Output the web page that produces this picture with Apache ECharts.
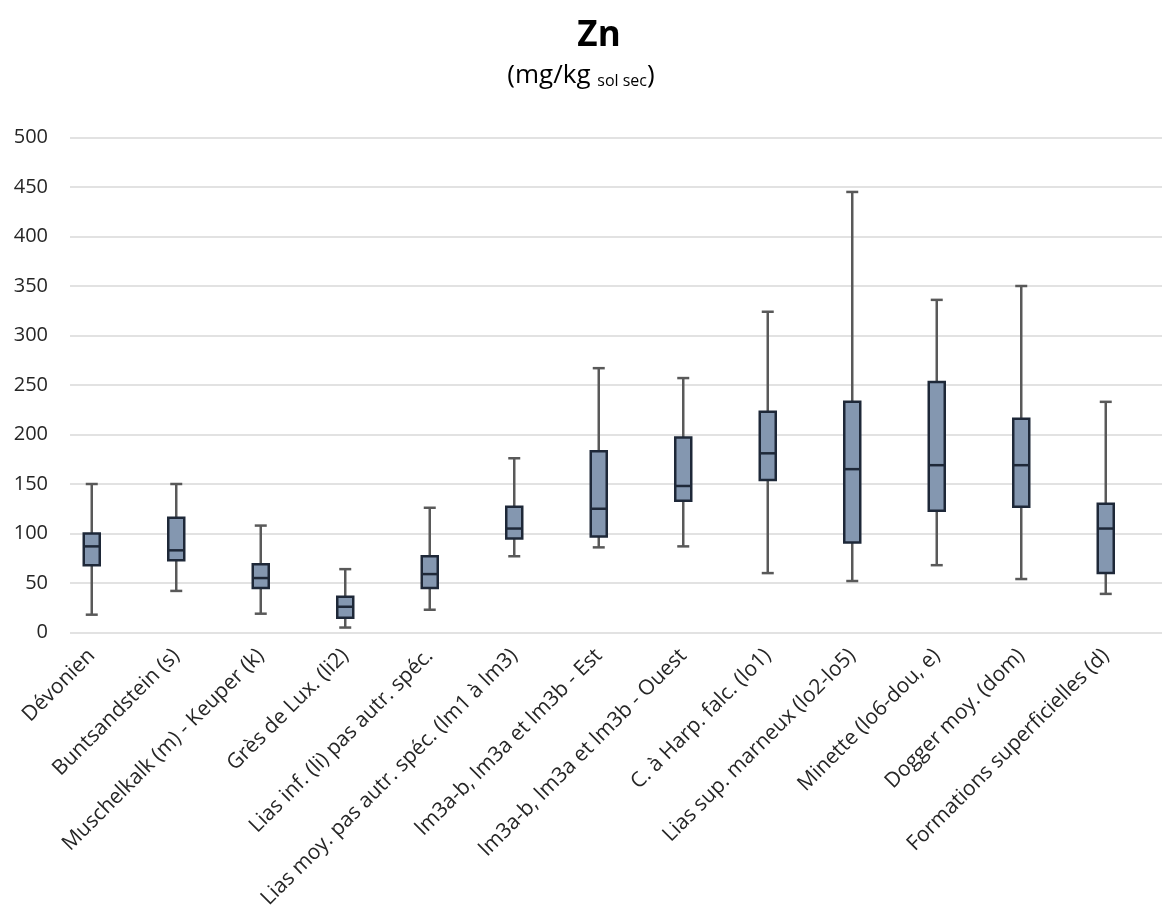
<!DOCTYPE html>
<html>
<head>
<meta charset="utf-8">
<script src="https://cdn.jsdelivr.net/npm/echarts@6/dist/echarts.min.js"></script>
<style>
html,body{margin:0;padding:0;background:#fff;}
#chart{width:1162px;height:913px;}
</style>
</head>
<body>
<div id="chart"></div>
<script>
const categories = [
  "Dévonien",
  "Buntsandstein (s)",
  "Muschelkalk (m) - Keuper (k)",
  "Grès de Lux. (li2)",
  "Lias inf. (li) pas autr. spéc.",
  "Lias moy. pas autr. spéc. (lm1 à lm3)",
  "lm3a-b, lm3a et lm3b - Est",
  "lm3a-b, lm3a et lm3b - Ouest",
  "C. à Harp. falc. (lo1)",
  "Lias sup. marneux (lo2-lo5)",
  "Minette (lo6-dou, e)",
  "Dogger moy. (dom)",
  "Formations superficielles (d)"
];
const minValues    = [18, 42, 19,  5, 23,  77,  86,  87,  60,  52,  68,  54,  39];
const q1Values     = [68, 73, 45, 15, 45,  95,  97, 133, 154,  91, 123, 127,  60];
const medianValues = [87, 83, 55, 26, 59, 105, 125, 148, 181, 165, 169, 169, 105];
const q3Values     = [100,116, 69, 36, 77, 127, 183, 197, 223, 233, 253, 216, 130];
const maxValues    = [150,150,108, 64,126, 176, 267, 257, 324, 445, 336, 350, 233];
const yTicks = [0, 50, 100, 150, 200, 250, 300, 350, 400, 450, 500];

const boxData = categories.map((c, i) => [i, minValues[i], q1Values[i], medianValues[i], q3Values[i], maxValues[i]]);

const FONT = "'Open Sans', 'DejaVu Sans', sans-serif";
const chart = echarts.init(document.getElementById('chart'));

function renderBox(params, api) {
  const x = api.value(0);
  const pMin = api.coord([x, api.value(1)]);
  const pQ1 = api.coord([x, api.value(2)]);
  const pMed = api.coord([x, api.value(3)]);
  const pQ3 = api.coord([x, api.value(4)]);
  const pMax = api.coord([x, api.value(5)]);
  const cx = pMin[0];
  const halfBox = 8, halfCap = 6;
  const wStyle = {stroke: '#595959', lineWidth: 2.5};
  const bStyle = {stroke: '#1E2838', lineWidth: 2.5};
  return {
    type: 'group',
    children: [
      {type: 'line', shape: {x1: cx, y1: pMin[1], x2: cx, y2: pQ1[1]}, style: wStyle},
      {type: 'line', shape: {x1: cx, y1: pQ3[1], x2: cx, y2: pMax[1]}, style: wStyle},
      {type: 'line', shape: {x1: cx - halfCap, y1: pMin[1], x2: cx + halfCap, y2: pMin[1]}, style: wStyle},
      {type: 'line', shape: {x1: cx - halfCap, y1: pMax[1], x2: cx + halfCap, y2: pMax[1]}, style: wStyle},
      {type: 'rect', shape: {x: cx - halfBox, y: pQ3[1], width: 2 * halfBox, height: pQ1[1] - pQ3[1]},
        style: {fill: '#8497B0', stroke: '#1E2838', lineWidth: 2.5}},
      {type: 'line', shape: {x1: cx - halfBox, y1: pMed[1], x2: cx + halfBox, y2: pMed[1]}, style: bStyle}
    ]
  };
}

const option = {
  backgroundColor: '#ffffff',
  animation: false,
  title: [{
    text: 'Zn',
    left: 594, top: 14, textAlign: 'center',
    textStyle: {fontFamily: FONT, fontSize: 35, fontWeight: 'bold', color: '#000'}
  }],
  graphic: [{
    type: 'text',
    left: 'center',
    top: 63,
    style: {
      text: '{a|(mg/kg }{b|sol sec}{a|)}',
      rich: {
        a: {fontFamily: FONT, fontSize: 26, lineHeight: 34, color: '#000', verticalAlign: 'bottom'},
        b: {fontFamily: FONT, fontSize: 16, lineHeight: 16, color: '#000', verticalAlign: 'bottom'}
      }
    },
    x: 14
  }],
  grid: [
    {left: 70, right: 0, top: 137.5, height: 495},
    {left: 49.5, width: 1098.5, top: 137.5, height: 495}
  ],
  xAxis: [
    {type: 'value', gridIndex: 0, show: false, min: 0, max: 1},
    {
      type: 'category', gridIndex: 1, data: categories,
      axisLine: {show: false}, axisTick: {show: false},
      axisLabel: {interval: 0, rotate: 45, margin: 20, fontFamily: FONT, fontSize: 21, color: '#262626'}
    }
  ],
  yAxis: [
    {
      type: 'value', gridIndex: 0, min: yTicks[0], max: yTicks[yTicks.length - 1], interval: 50,
      axisLine: {show: false}, axisTick: {show: false},
      axisLabel: {margin: 22, fontFamily: FONT, fontSize: 20, color: '#262626'},
      splitLine: {lineStyle: {color: '#D9D9D9', width: 1.5}}
    },
    {
      type: 'value', gridIndex: 1, min: yTicks[0], max: yTicks[yTicks.length - 1], interval: 50,
      show: false, splitLine: {show: false}
    }
  ],
  series: [{
    type: 'custom',
    xAxisIndex: 1, yAxisIndex: 1,
    renderItem: renderBox,
    encode: {x: 0, y: [1, 2, 3, 4, 5]},
    data: boxData
  }]
};
chart.setOption(option);
</script>
</body>
</html>
